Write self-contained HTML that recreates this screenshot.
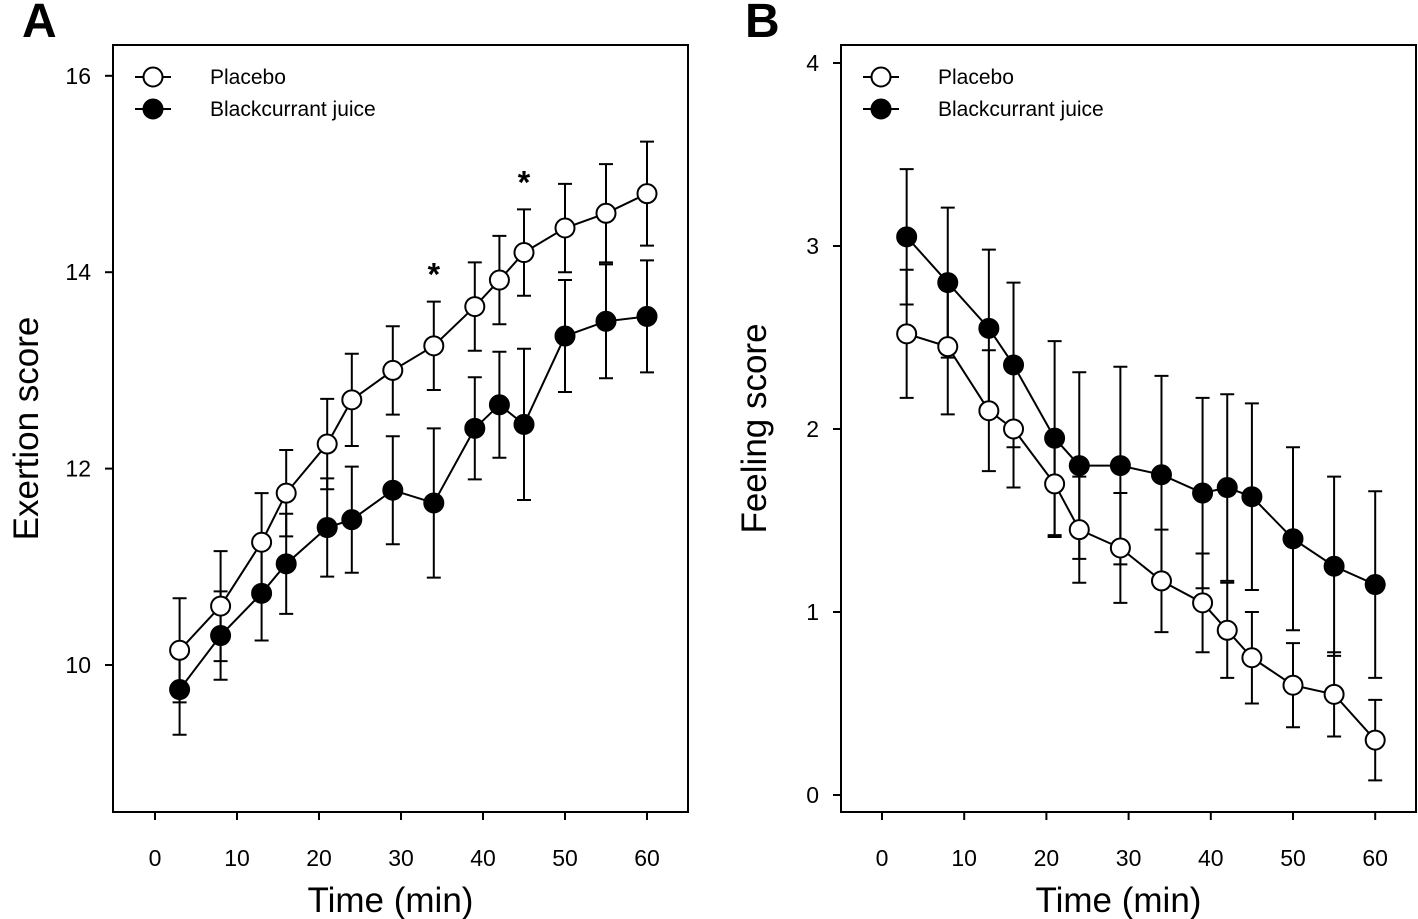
<!DOCTYPE html>
<html><head><meta charset="utf-8"><style>
body{margin:0;background:#fff;}
svg{display:block;font-family:"Liberation Sans",Arial,sans-serif;}
</style></head><body>
<svg id="chart" width="1418" height="919" xmlns="http://www.w3.org/2000/svg"></svg>
<script>
const times = [3,8,13,16,21,24,29,34,39,42,45,50,55,60];
const exertionPlacebo = [10.15,10.6,11.25,11.75,12.25,12.7,13.0,13.25,13.65,13.92,14.2,14.45,14.6,14.8];
const exertionPlaceboErr = [0.53,0.56,0.5,0.44,0.46,0.47,0.45,0.45,0.45,0.45,0.44,0.45,0.5,0.53];
const exertionJuice = [9.75,10.3,10.73,11.03,11.4,11.48,11.78,11.65,12.41,12.65,12.45,13.35,13.5,13.55];
const exertionJuiceErr = [0.46,0.45,0.48,0.51,0.5,0.54,0.55,0.76,0.52,0.54,0.77,0.57,0.58,0.57];
const feelingPlacebo = [2.52,2.45,2.1,2.0,1.7,1.45,1.35,1.17,1.05,0.9,0.75,0.6,0.55,0.3];
const feelingPlaceboErr = [0.35,0.37,0.33,0.32,0.29,0.29,0.3,0.28,0.27,0.26,0.25,0.23,0.23,0.22];
const feelingJuice = [3.05,2.8,2.55,2.35,1.95,1.8,1.8,1.75,1.65,1.68,1.63,1.4,1.25,1.15];
const feelingJuiceErr = [0.37,0.41,0.43,0.45,0.53,0.51,0.54,0.54,0.52,0.51,0.51,0.5,0.49,0.51];
const xTicks = [0,10,20,30,40,50,60];
const yTicksA = [10,12,14,16];
const yTicksB = [0,1,2,3,4];
const sigTimes = [34,45];

const NS="http://www.w3.org/2000/svg";
const svg=document.getElementById('chart');
function el(tag,attrs,parent,text){const e=document.createElementNS(NS,tag);for(const k in attrs)e.setAttribute(k,attrs[k]);if(text!==undefined)e.textContent=text;(parent||svg).appendChild(e);return e;}

function panel(opts){
  const g=el('g',{});
  
  
  const L=opts.left,R=opts.right,T=45,B=812;
  const xs=v=>opts.x0+(v)*opts.xk;
  const ys=v=>opts.y0-(v-opts.yBase)*opts.yk;
  const frame=el('rect',{x:L,y:T,width:R-L,height:B-T,fill:'none',stroke:'#000','stroke-width':2},g);
  
  
  xTicks.forEach(t=>{
    el('line',{x1:xs(t),x2:xs(t),y1:B,y2:B+8,stroke:'#000','stroke-width':2},g);
    const lb=el('text',{x:xs(t),y:866,'text-anchor':'middle','font-size':23},g,String(t));
    
    
  });
  opts.yTicks.forEach(t=>{
    el('line',{x1:L-8,x2:L,y1:ys(t),y2:ys(t),stroke:'#000','stroke-width':2},g);
    const lb=el('text',{x:L-22,y:ys(t)+8,'text-anchor':'end','font-size':23},g,String(t));
    
    
  });
  const xt=el('text',{x:(L+R)/2-10,y:912,'text-anchor':'middle','font-size':35},g,'Time (min)');
  
  
  const yt=el('text',{x:0,y:0,'text-anchor':'middle','font-size':35,transform:`translate(${L-75},${(T+B)/2}) rotate(-90)`},g,opts.ytitle);
  
  
  const letter=el('text',{x:opts.letterX,y:37,'font-size':48,'font-weight':'bold'},g,opts.letter);
  
  
  [[opts.p,opts.pe],[opts.j,opts.je]].forEach(([vals,errs])=>{
    vals.forEach((v,i)=>{
      const x=xs(times[i]);
      const eb=el('path',{d:`M${x},${ys(v-errs[i])}V${ys(v+errs[i])}M${x-7},${ys(v-errs[i])}H${x+7}M${x-7},${ys(v+errs[i])}H${x+7}`,stroke:'#000','stroke-width':2,fill:'none'},g);
      
      
    });
  });
  [[opts.p,'#fff','placebo'],[opts.j,'#000','juice']].forEach(([vals,fill,nm])=>{
    const ln=el('polyline',{points:vals.map((v,i)=>xs(times[i])+','+ys(v)).join(' '),fill:'none',stroke:'#000','stroke-width':2},g);
    
    
    vals.forEach((v,i)=>{
      const c=el('circle',{cx:xs(times[i]),cy:ys(v),r:9.5,fill:fill,stroke:'#000','stroke-width':2},g);
      
      
    });
  });
  [['Placebo','#fff',77],['Blackcurrant juice','#000',109]].forEach(([t,f,y])=>{
    const lg=el('g',{},g);
    
    
    el('line',{x1:L+22,x2:L+58,y1:y,y2:y,stroke:'#000','stroke-width':2},lg);
    el('circle',{cx:L+40,cy:y,r:9.5,fill:f,stroke:'#000','stroke-width':2},lg);
    el('text',{x:L+97,y:y+7,'font-size':21},lg,t);
  });
  if(opts.sig){
    sigTimes.forEach(t=>{
      const i=times.indexOf(t);
      const s=el('text',{x:xs(t),y:ys(opts.p[i]+opts.pe[i])-16,'text-anchor':'middle','font-size':32,'font-weight':'bold'},g,'*');
      
      
    });
  }
}
panel({name:'panel-a-exertion',left:113,right:688,x0:155,xk:8.2,y0:665,yBase:10,yk:98.2,yTicks:yTicksA,ytitle:'Exertion score',letter:'A',letterX:22,p:exertionPlacebo,pe:exertionPlaceboErr,j:exertionJuice,je:exertionJuiceErr,sig:true});
panel({name:'panel-b-feeling',left:841,right:1416,x0:882,xk:8.22,y0:795,yBase:0,yk:183,yTicks:yTicksB,ytitle:'Feeling score',letter:'B',letterX:745,p:feelingPlacebo,pe:feelingPlaceboErr,j:feelingJuice,je:feelingJuiceErr,sig:false});
</script>
</body></html>
